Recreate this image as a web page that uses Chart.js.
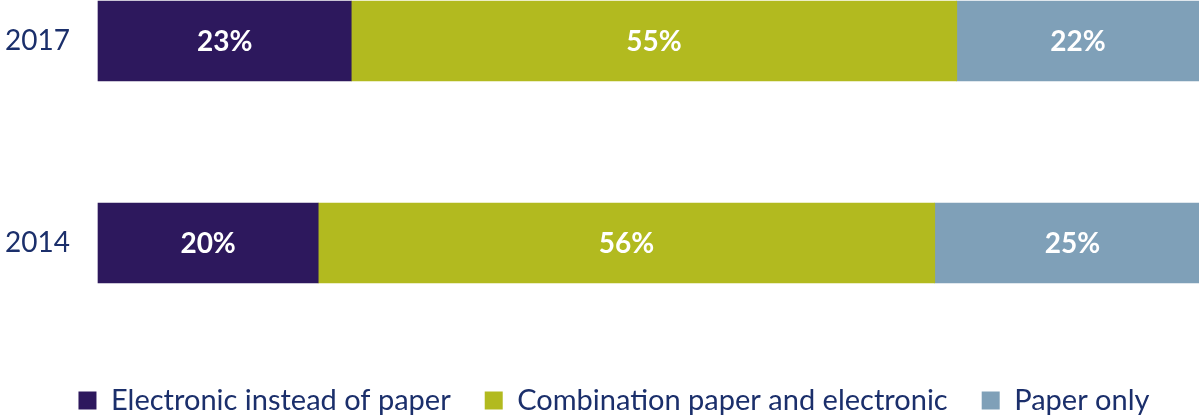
<!DOCTYPE html>
<html>
<head>
<meta charset="utf-8">
<script src="https://cdn.jsdelivr.net/npm/chart.js@4/dist/chart.umd.min.js"></script>
<style>
  html, body { margin: 0; padding: 0; background: #ffffff; }
  #wrap { width: 1201px; height: 416px; position: relative; }
</style>
</head>
<body>
<div id="wrap"><canvas id="chart"></canvas></div>
<script>
// Survey years (top to bottom) and the share of each format, in percent
const years = ['2017', '2014'];
const electronicOnly = [23, 20];
const combination = [55, 56];
const paperOnly = [22, 25];
const seriesNames = ['Electronic instead of paper', 'Combination paper and electronic', 'Paper only'];

const FONT = 'Lato, "Open Sans", sans-serif';
const NAVY = '#1B2F6B';

// White percentage labels centred in each bar segment
const barValueLabels = {
  id: 'barValueLabels',
  afterDatasetsDraw(chart) {
    const ctx = chart.ctx;
    ctx.save();
    ctx.font = 'bold 28px ' + FONT;
    ctx.fillStyle = '#ffffff';
    ctx.textAlign = 'center';
    ctx.textBaseline = 'middle';
    chart.data.datasets.forEach((ds, i) => {
      chart.getDatasetMeta(i).data.forEach((bar, j) => {
        const p = bar.getProps(['x', 'base', 'y'], true);
        ctx.fillText(ds.data[j] + '%', (p.x + p.base) / 2, p.y + 1);
      });
    });
    ctx.restore();
  }
};

// Bars may run past the 100% edge; cut them off there
const segClip = { left: false, top: false, right: 0, bottom: false };

new Chart(document.getElementById('chart'), {
  type: 'bar',
  data: {
    labels: years,
    datasets: [
      { label: seriesNames[0], data: electronicOnly, backgroundColor: '#2D185D', clip: segClip },
      { label: seriesNames[1], data: combination, backgroundColor: '#B2BA1F', clip: segClip },
      { label: seriesNames[2], data: paperOnly, backgroundColor: '#7FA0B8', clip: segClip }
    ]
  },
  options: {
    indexAxis: 'y',
    responsive: true,
    maintainAspectRatio: false,
    animation: false,
    barThickness: 80,
    layout: { padding: { top: 41, right: 2, bottom: -9, left: 29 } },
    scales: {
      x: { stacked: true, min: 0, max: 100, display: false },
      y: {
        stacked: true,
        offset: false,
        grid: { display: false, drawTicks: false },
        border: { display: false },
        // year labels sit left of the bars, starting near the page edge
        ticks: { color: NAVY, mirror: true, crossAlign: 'near', padding: -93, font: { family: FONT, size: 28 } },
        afterFit(scale) { scale.width = 69; }
      }
    },
    plugins: {
      tooltip: { enabled: false },
      legend: {
        position: 'bottom',
        title: { display: true, text: '', font: { size: 10, lineHeight: 1 }, padding: { top: 99, bottom: 0 } },
        labels: {
          boxWidth: 18,
          boxHeight: 18,
          padding: 34,
          color: NAVY,
          font: { family: FONT, size: 29 }
        }
      }
    }
  },
  plugins: [barValueLabels]
});
</script>
</body>
</html>
